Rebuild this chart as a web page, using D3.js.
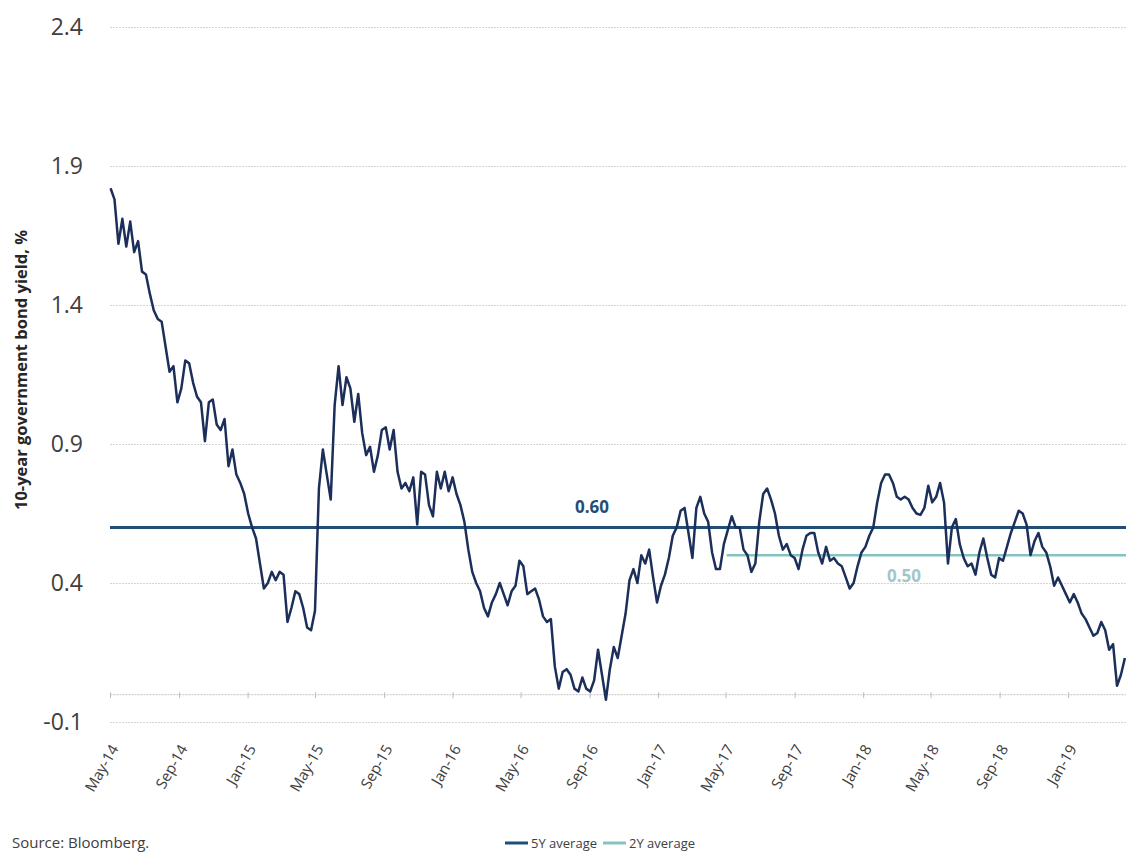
<!DOCTYPE html>
<html>
<head>
<meta charset="utf-8">
<script src="https://cdn.jsdelivr.net/npm/d3@7"></script>
<style>
  html, body { margin: 0; padding: 0; background: #ffffff; }
  svg { display: block; }
  text { font-family: "Open Sans", "Liberation Sans", sans-serif; }
</style>
</head>
<body>
<svg id="chart" width="1126" height="853"></svg>
<script>
// 10-year government bond yield (%), weekly closes from 2 May 2014
const seriesStart = "2014-05-02";
const yields = [
  1.82, 1.78, 1.62, 1.71, 1.61, 1.70, 1.59, 1.63, 1.52, 1.51,
  1.44, 1.38, 1.35, 1.34, 1.25, 1.16, 1.18, 1.05, 1.10, 1.20,
  1.19, 1.12, 1.07, 1.05, 0.91, 1.05, 1.06, 0.97, 0.95, 0.99,
  0.82, 0.88, 0.79, 0.76, 0.72, 0.65, 0.60, 0.56, 0.47, 0.38,
  0.40, 0.44, 0.41, 0.44, 0.43, 0.26, 0.31, 0.37, 0.36, 0.31,
  0.24, 0.23, 0.30, 0.74, 0.88, 0.79, 0.70, 1.04, 1.18, 1.04,
  1.14, 1.10, 0.98, 1.08, 0.94, 0.86, 0.89, 0.80, 0.86, 0.95,
  0.96, 0.88, 0.95, 0.80, 0.74, 0.76, 0.73, 0.78, 0.61, 0.80,
  0.79, 0.68, 0.64, 0.80, 0.74, 0.80, 0.73, 0.78, 0.72, 0.68,
  0.62, 0.52, 0.44, 0.40, 0.37, 0.31, 0.28, 0.33, 0.36, 0.40,
  0.36, 0.32, 0.37, 0.39, 0.48, 0.46, 0.36, 0.37, 0.38, 0.34,
  0.28, 0.26, 0.27, 0.10, 0.02, 0.08, 0.09, 0.07, 0.02, 0.01,
  0.06, 0.02, 0.01, 0.05, 0.16, 0.07, -0.02, 0.09, 0.17, 0.13,
  0.21, 0.29, 0.41, 0.45, 0.40, 0.50, 0.47, 0.52, 0.42, 0.33,
  0.39, 0.43, 0.49, 0.57, 0.60, 0.66, 0.67, 0.58, 0.49, 0.67,
  0.71, 0.65, 0.62, 0.51, 0.45, 0.45, 0.54, 0.59, 0.64, 0.60,
  0.60, 0.52, 0.50, 0.44, 0.47, 0.62, 0.72, 0.74, 0.70, 0.65,
  0.57, 0.52, 0.54, 0.50, 0.49, 0.45, 0.52, 0.57, 0.58, 0.58,
  0.51, 0.47, 0.53, 0.48, 0.49, 0.47, 0.46, 0.42, 0.38, 0.40,
  0.46, 0.51, 0.53, 0.57, 0.60, 0.69, 0.76, 0.79, 0.79, 0.76,
  0.71, 0.70, 0.71, 0.70, 0.67, 0.65, 0.645, 0.67, 0.75, 0.69,
  0.71, 0.76, 0.69, 0.47, 0.60, 0.63, 0.54, 0.49, 0.46, 0.47,
  0.43, 0.51, 0.56, 0.49, 0.43, 0.42, 0.49, 0.48, 0.53, 0.58,
  0.62, 0.66, 0.65, 0.61, 0.50, 0.55, 0.58, 0.53, 0.51, 0.46,
  0.39, 0.42, 0.39, 0.36, 0.33, 0.36, 0.33, 0.29, 0.27, 0.24,
  0.21, 0.22, 0.26, 0.23, 0.16, 0.18, 0.03, 0.07, 0.13
];

// Period averages drawn as reference lines
const averageNames = ["5Y average", "2Y average"];
const averageValues = [0.60, 0.50];
const averageStarts = ["2014-05-01", "2017-05-03"];

// Axis ticks
const xTickLabels = ["May-14", "Sep-14", "Jan-15", "May-15", "Sep-15", "Jan-16", "May-16",
  "Sep-16", "Jan-17", "May-17", "Sep-17", "Jan-18", "May-18", "Sep-18", "Jan-19"];
const yTicks = [-0.1, 0.4, 0.9, 1.4, 1.9, 2.4];
const xDomain = ["2014-05-01", "2019-04-14"];

const parseDay = d3.timeParse("%Y-%m-%d");
const parseTick = d3.timeParse("%b-%y");
const start = parseDay(seriesStart);
const data = yields.map((v, i) => ({ date: d3.timeDay.offset(start, 7 * i), value: v }));

const svg = d3.select("#chart");
const plotLeft = 110, plotRight = 1126, plotTop = 27, plotBottom = 722;

const x = d3.scaleTime().domain(xDomain.map(parseDay)).range([plotLeft, plotRight]);
const y = d3.scaleLinear().domain([-0.1, 2.4]).range([plotBottom, plotTop]);

// Horizontal gridlines
svg.append("g").selectAll("line").data(yTicks).join("line")
  .attr("x1", plotLeft).attr("x2", plotRight)
  .attr("y1", d => y(d) + 0.5).attr("y2", d => y(d) + 0.5)
  .attr("stroke", "#d4d4d4").attr("stroke-width", 1.2)
  .attr("stroke-dasharray", "2,1");

// Y axis labels (plain hyphen for negatives)
const yAxis = d3.axisLeft(y).tickValues(yTicks).tickFormat(d => d.toFixed(1)).tickSize(0).tickPadding(0);
const gy = svg.append("g").attr("transform", `translate(${plotLeft - 27},0)`).call(yAxis);
gy.select(".domain").remove();
gy.selectAll("text")
  .attr("font-size", 23).attr("fill", "#404040")
  .attr("font-family", "'Open Sans', sans-serif");

// X axis at zero, with month ticks
const tickDates = xTickLabels.map(parseTick);
const xAxis = d3.axisBottom(x).tickValues(tickDates).tickFormat(d3.timeFormat("%b-%y"))
  .tickSize(0).tickPadding(0);
const gx = svg.append("g").attr("transform", `translate(0,${y(0)})`).call(xAxis);
gx.select(".domain").attr("stroke", "#cfcfcf").attr("stroke-width", 1.2).attr("stroke-dasharray", "2,1");
gx.selectAll(".tick").append("line")
  .attr("y1", -2).attr("y2", 4).attr("stroke", "#bdbdbd").attr("stroke-width", 1);
gx.selectAll("text")
  .attr("font-size", 15).attr("fill", "#404040")
  .attr("font-family", "'Open Sans', sans-serif")
  .attr("text-anchor", "end")
  .attr("dy", "0.35em")
  .attr("transform", `translate(4,${plotBottom - y(0) + 24}) rotate(-60)`);

// Average reference lines
const avgColors = ["#1f4e79", "#86c2bf"];
const avgWidths = [3, 2.5];
averageValues.forEach((v, i) => {
  svg.append("line")
    .attr("x1", x(parseDay(averageStarts[i]))).attr("x2", plotRight)
    .attr("y1", y(v)).attr("y2", y(v))
    .attr("stroke", avgColors[i]).attr("stroke-width", avgWidths[i]);
});

// Yield series
const line = d3.line().x(d => x(d.date)).y(d => y(d.value)).curve(d3.curveLinear);
svg.append("path").datum(data)
  .attr("d", line)
  .attr("fill", "none")
  .attr("stroke", "#1b2f5a")
  .attr("stroke-width", 2.5)
  .attr("stroke-linejoin", "round");

// Average value labels
svg.append("text")
  .attr("x", 592).attr("y", y(averageValues[0]) - 14)
  .attr("text-anchor", "middle")
  .attr("font-size", 17).attr("font-weight", 700).attr("fill", "#1f4e79")
  .text(averageValues[0].toFixed(2));
svg.append("text")
  .attr("x", 904).attr("y", y(averageValues[1]) + 27)
  .attr("text-anchor", "middle")
  .attr("font-size", 17).attr("font-weight", 700).attr("fill", "#a3c6c9")
  .text(averageValues[1].toFixed(2));

// Y axis title
svg.append("text")
  .attr("transform", `translate(27,370) rotate(-90)`)
  .attr("text-anchor", "middle")
  .attr("font-size", 16.5).attr("font-weight", 700).attr("fill", "#262626")
  .text("10-year government bond yield, %");

// Source note
svg.append("text")
  .attr("x", 12).attr("y", 848)
  .attr("font-size", 15).attr("fill", "#404040")
  .text("Source: Bloomberg.");

// Legend
const legendX = [505, 603];
averageNames.forEach((name, i) => {
  const g = svg.append("g").attr("transform", `translate(${legendX[i]},843)`);
  g.append("line").attr("x1", 0).attr("x2", 23).attr("y1", 0).attr("y2", 0)
    .attr("stroke", avgColors[i]).attr("stroke-width", 3);
  g.append("text").attr("x", 26).attr("y", 4.5)
    .attr("font-family", "'Liberation Sans Narrow', 'Open Sans', sans-serif")
    .attr("font-size", 13).attr("fill", "#404040")
    .text(name);
});
</script>
</body>
</html>
